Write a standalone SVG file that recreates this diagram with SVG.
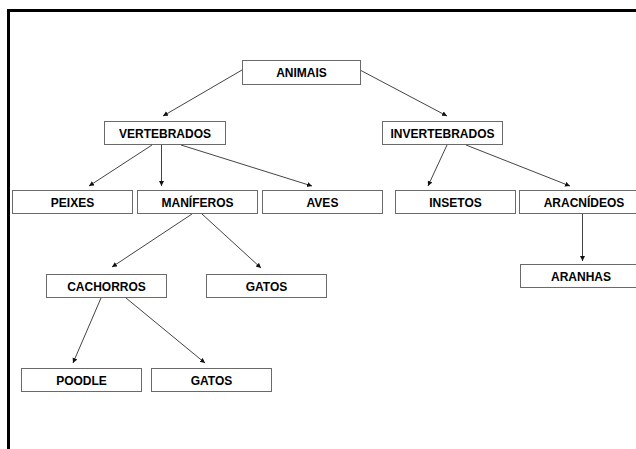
<svg xmlns="http://www.w3.org/2000/svg" width="636" height="449" viewBox="0 0 636 449">
<style>
.box{fill:#fff;stroke:#6a6a6a;stroke-width:1}
.lbl{font-family:"Liberation Sans",Arial,sans-serif;font-weight:bold;font-size:12px;fill:#000;text-anchor:middle}
.edge{stroke:#444;stroke-width:1;fill:none;marker-end:url(#ah)}
</style>
<defs>
<marker id="ah" markerUnits="userSpaceOnUse" markerWidth="6" markerHeight="6" refX="5" refY="2.5" orient="auto">
<path d="M0,0 L5,2.5 L0,5 Z" fill="#111"/>
</marker>
</defs>
<rect x="0" y="0" width="636" height="449" fill="#fff"/>
<g id="frame">
<line x1="7" y1="10.5" x2="636" y2="10.5" stroke="#000" stroke-width="3"/>
<line x1="8.5" y1="9" x2="8.5" y2="449" stroke="#000" stroke-width="3"/>
</g>
<g id="connectors">
<line class="edge" x1="242" y1="70" x2="163" y2="116"/>
<line class="edge" x1="360" y1="70" x2="447" y2="116"/>
<line class="edge" x1="152" y1="145" x2="89" y2="186"/>
<line class="edge" x1="161.5" y1="145" x2="161.5" y2="186"/>
<line class="edge" x1="181" y1="145" x2="312" y2="186"/>
<line class="edge" x1="447" y1="145" x2="428" y2="186"/>
<line class="edge" x1="466" y1="145" x2="570" y2="186"/>
<line class="edge" x1="582.5" y1="214" x2="582.5" y2="261"/>
<line class="edge" x1="192" y1="214" x2="112" y2="267"/>
<line class="edge" x1="202" y1="214" x2="261" y2="268"/>
<line class="edge" x1="101" y1="298" x2="73" y2="363"/>
<line class="edge" x1="126" y1="298" x2="205" y2="363"/>
</g>
<g id="animais"><rect class="box" x="242.5" y="60.5" width="118" height="24"/><text class="lbl" x="301.5" y="77">ANIMAIS</text></g>
<g id="vertebrados"><rect class="box" x="104.5" y="121.5" width="121" height="23"/><text class="lbl" x="165" y="137.5">VERTEBRADOS</text></g>
<g id="invertebrados"><rect class="box" x="382.5" y="121.5" width="120" height="23"/><text class="lbl" x="442.5" y="137.5">INVERTEBRADOS</text></g>
<g id="peixes"><rect class="box" x="12.5" y="190.5" width="120" height="23"/><text class="lbl" x="72.5" y="206.5">PEIXES</text></g>
<g id="maniferos"><rect class="box" x="137.5" y="190.5" width="120" height="23"/><text class="lbl" x="197.5" y="206.5">MANÍFEROS</text></g>
<g id="aves"><rect class="box" x="262.5" y="190.5" width="120" height="23"/><text class="lbl" x="322.5" y="206.5">AVES</text></g>
<g id="insetos"><rect class="box" x="395.5" y="190.5" width="120" height="23"/><text class="lbl" x="455.5" y="206.5">INSETOS</text></g>
<g id="aracnideos"><rect class="box" x="519.5" y="190.5" width="120" height="23"/><text class="lbl" x="584" y="206.5">ARACNÍDEOS</text></g>
<g id="aranhas"><rect class="box" x="520.5" y="264.5" width="120" height="23"/><text class="lbl" x="581" y="280.5">ARANHAS</text></g>
<g id="cachorros"><rect class="box" x="46.5" y="274.5" width="120" height="23"/><text class="lbl" x="106.5" y="290.5">CACHORROS</text></g>
<g id="gatos1"><rect class="box" x="206.5" y="274.5" width="120" height="23"/><text class="lbl" x="266.5" y="290.5">GATOS</text></g>
<g id="poodle"><rect class="box" x="21.5" y="368.5" width="120" height="23"/><text class="lbl" x="81.5" y="384.5">POODLE</text></g>
<g id="gatos2"><rect class="box" x="151.5" y="368.5" width="120" height="23"/><text class="lbl" x="211.5" y="384.5">GATOS</text></g>
</svg>
